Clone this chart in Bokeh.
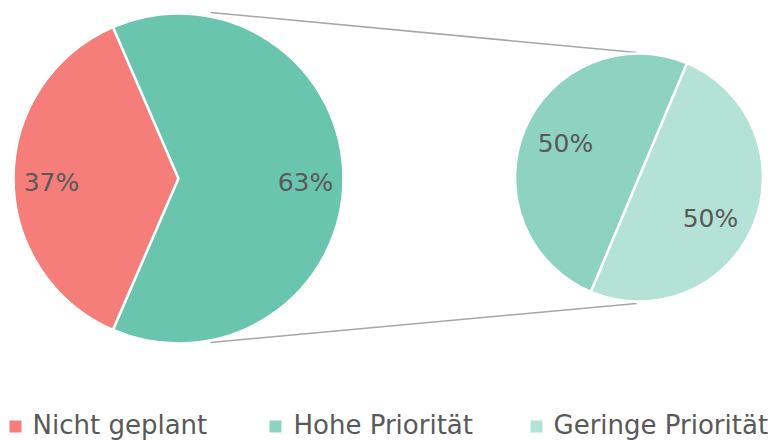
import numpy as np
from bokeh.plotting import figure
from bokeh.models import Range1d, ColumnDataSource
from bokeh.core.properties import value
from bokeh.embed import file_html
from bokeh.resources import INLINE

# ---- data ----
main_categories = ["Nicht geplant", "Andere"]
main_values = [37, 63]
sub_categories = ["Hohe Priorität", "Geringe Priorität"]
sub_values = [50, 50]
legend_labels = ["Nicht geplant", "Hohe Priorität", "Geringe Priorität"]

main_colors = ["#F57E7B", "#69C5AD"]
sub_colors = ["#8ED3C1", "#B5E2D6"]
legend_colors = ["#F57E7B", "#8ED3C1", "#B5E2D6"]

W, H = 781, 441
FONT = "DejaVu Sans"

p = figure(width=W, height=H, output_backend="svg", toolbar_location=None,
           x_range=Range1d(0, W), y_range=Range1d(0, H), min_border=0)
p.axis.visible = False
p.grid.visible = False
p.outline_line_color = None
p.background_fill_color = "white"

def Y(y):
    return H - y

# ---- connector lines (behind pies) ----
p.line([210, 636], [Y(12), Y(52)], line_color="#A6A6A6", line_width=1.5)
p.line([210, 636], [Y(342), Y(303)], line_color="#A6A6A6", line_width=1.5)

# ---- main pie ----
cx1, cy1, r1 = 178, Y(178), 165
frac = np.array(main_values, dtype=float) / sum(main_values)
start0 = np.pi - frac[0] * np.pi
angles = start0 + np.concatenate([[0], np.cumsum(frac) * 2 * np.pi])
src1 = ColumnDataSource(dict(start=angles[:-1], end=angles[1:], color=main_colors))
p.wedge(x=cx1, y=cy1, radius=r1, start_angle="start", end_angle="end",
        fill_color="color", line_color="white", line_width=2.5, source=src1)

# ---- sub pie ----
cx2, cy2, r2 = 638.5, Y(177), 124
frac2 = np.array(sub_values, dtype=float) / sum(sub_values)
start2 = np.deg2rad(67.2)
angles2 = start2 + np.concatenate([[0], np.cumsum(frac2) * 2 * np.pi])
src2 = ColumnDataSource(dict(start=angles2[:-1], end=angles2[1:], color=sub_colors))
p.wedge(x=cx2, y=cy2, radius=r2, start_angle="start", end_angle="end",
        fill_color="color", line_color="white", line_width=2.5, source=src2)

# ---- data labels ----
lbl_x = [51, 305, 565, 710]
lbl_y = [Y(182), Y(182), Y(143), Y(218)]
lbl_t = [f"{v}%" for v in main_values] + [f"{v}%" for v in sub_values]
p.text(x=lbl_x, y=lbl_y, text=lbl_t, text_align="center", text_baseline="middle",
       text_color="#595959", text_font=value(FONT), text_font_size="25px")

# ---- legend ----
leg_sq_x = [15, 275, 536]
leg_tx_x = [32, 293, 553]
p.rect(x=leg_sq_x, y=[Y(426)] * 3, width=12, height=12,
       fill_color=legend_colors, line_color=None)
p.text(x=leg_tx_x, y=[Y(424)] * 3, text=legend_labels, text_align="left",
       text_baseline="middle", text_color="#595959", text_font=value(FONT),
       text_font_size="26px")

open("out.html", "w").write(file_html(p, INLINE))
